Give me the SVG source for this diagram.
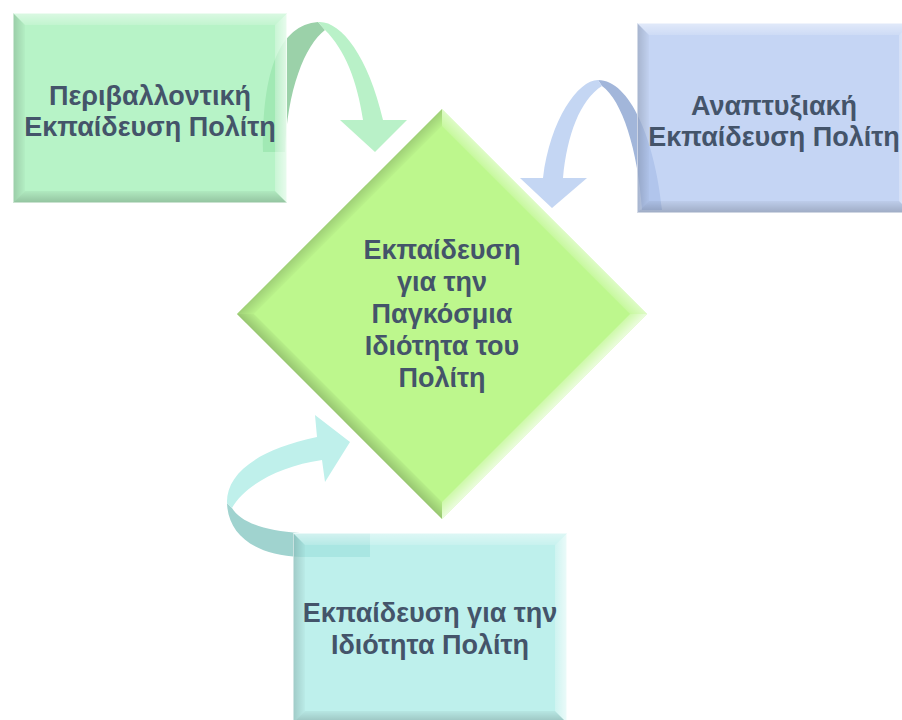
<svg xmlns="http://www.w3.org/2000/svg" xmlns:xlink="http://www.w3.org/1999/xlink" width="902" height="720" viewBox="0 0 902 720">
<style>
.t{font-family:"Liberation Sans",Arial,"DejaVu Sans",sans-serif;font-weight:bold;font-size:27px;fill:#44546a;text-anchor:middle}
.bt{fill:url(#gT)}.br{fill:url(#gR)}.bb{fill:url(#gB)}.bl{fill:url(#gL)}
.box{fill-opacity:0.78}
</style>
<defs>
<linearGradient id="gT" x1="0" y1="0" x2="0" y2="1"><stop offset="0" stop-color="#fff" stop-opacity="0.5"/><stop offset="1" stop-color="#fff" stop-opacity="0.15"/></linearGradient>
<linearGradient id="gR" x1="1" y1="0" x2="0" y2="0"><stop offset="0" stop-color="#fff" stop-opacity="0.7"/><stop offset="1" stop-color="#fff" stop-opacity="0.25"/></linearGradient>
<linearGradient id="gB" x1="0" y1="1" x2="0" y2="0"><stop offset="0" stop-color="#000" stop-opacity="0.2"/><stop offset="1" stop-color="#000" stop-opacity="0.04"/></linearGradient>
<linearGradient id="gL" x1="0" y1="0" x2="1" y2="0"><stop offset="0" stop-color="#000" stop-opacity="0.16"/><stop offset="1" stop-color="#000" stop-opacity="0.02"/></linearGradient>
<g id="bevel">
<polygon class="bt" points="0,0 274,0 262,12 12,12"/>
<polygon class="br" points="274,0 274,190 262,178 262,12"/>
<polygon class="bb" points="0,190 274,190 262,178 12,178"/>
<polygon class="bl" points="0,0 12,12 12,178 0,190"/>
<rect x="0.5" y="0.5" width="273" height="189" fill="none" stroke="#fff" stroke-opacity="0.5"/>
</g>
</defs>
<rect width="902" height="720" fill="#fff"/>

<g id="connectors">
<g id="arrow-env">
<path d="M263,152 C262,70 280,25 318,22 L325,30 C305,45 287,90 285,152 Z" fill="#9bd1a9"/>
<path d="M318,22 C340,20 368,55 383,120 L407,120 L375,152 L340,120 L363,120 C357,80 345,50 325,30 Z" fill="#b9f1c8"/>
</g>
<g id="arrow-dev">
<path d="M598,80 C630,80 655,140 662,210 L642,210 C638,150 622,100 602,86 Z" fill="#a2b6da"/>
<path d="M598,80 C578,80 550,120 543,178 L520,178 L552,208 L587,178 L563,178 C567,135 580,100 602,86 Z" fill="#c4d6f3"/>
</g>
<g id="arrow-cit">
<path d="M227,503 C228,535 255,555 300,557 L370,557 L370,533 L300,533 C265,531 240,522 232,508 Z" fill="#a0d3cf"/>
<path d="M227,503 C226,475 255,450 317,437 L315,415 L350,442 L325,482 L322,460 C280,466 245,485 232,508 Z" fill="#bff0eb"/>
</g>
</g>

<g id="node-env">
<rect class="box" x="13" y="13" width="274" height="190" fill="#a3f0b7"/>
<use xlink:href="#bevel" x="13" y="13"/>
<text class="t" x="150" y="105">Περιβαλλοντική</text>
<text class="t" x="150" y="136">Εκπαίδευση Πολίτη</text>
</g>

<g id="node-dev">
<rect class="box" x="637" y="23" width="274" height="190" fill="#b5c9f1"/>
<use xlink:href="#bevel" x="637" y="23"/>
<text class="t" x="774" y="115">Αναπτυξιακή</text>
<text class="t" x="774" y="146">Εκπαίδευση Πολίτη</text>
</g>

<g id="node-cit">
<rect class="box" x="293" y="533" width="274" height="190" fill="#acece7"/>
<use xlink:href="#bevel" x="293" y="533"/>
<text class="t" x="430" y="622">Εκπαίδευση για την</text>
<text class="t" x="430" y="654">Ιδιότητα Πολίτη</text>
</g>

<g id="node-global">
<g transform="translate(442,314) rotate(45)">
<rect x="-145" y="-145" width="290" height="290" fill="#bdf78d"/>
<polygon class="bt" points="-145,-145 145,-145 133,-133 -133,-133"/>
<polygon class="br" points="145,-145 145,145 133,133 133,-133"/>
<polygon class="bb" points="-145,145 145,145 133,133 -133,133"/>
<polygon class="bl" points="-145,-145 -133,-133 -133,133 -145,145"/>
</g>
<text class="t" x="442" y="259">Εκπαίδευση</text>
<text class="t" x="442" y="291">για την</text>
<text class="t" x="442" y="323">Παγκόσμια</text>
<text class="t" x="442" y="355">Ιδιότητα του</text>
<text class="t" x="442" y="387">Πολίτη</text>
</g>
</svg>
